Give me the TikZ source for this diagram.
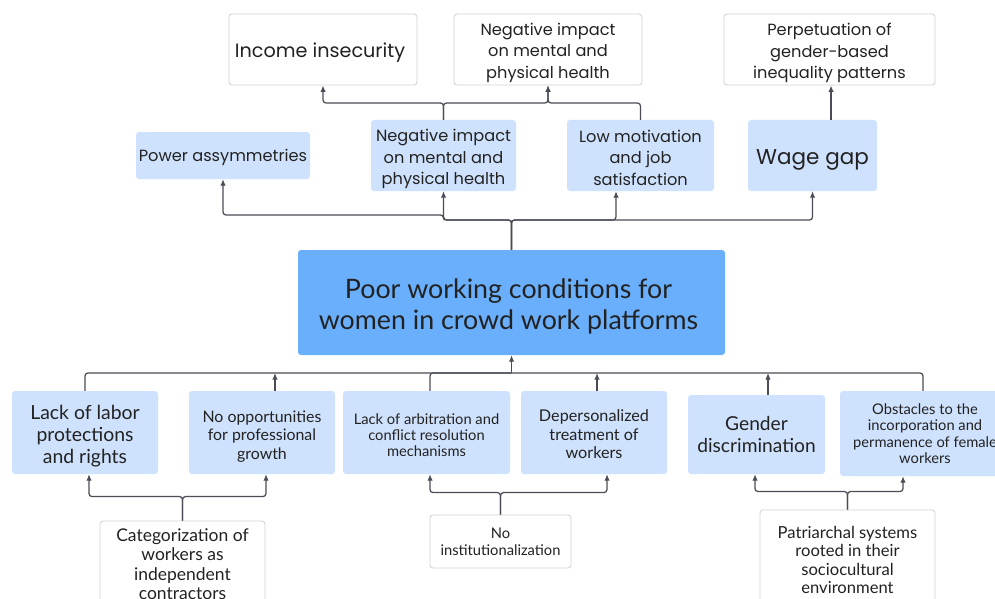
\documentclass[tikz,border=0pt]{standalone}
\usepackage{fontspec}
\usetikzlibrary{arrows.meta,calc}
\newfontfamily\pop{Poppins}
\newfontfamily\lat{Lato}
\newcommand{\fsz}[2]{\fontsize{#1}{#2}\selectfont}
\definecolor{lblue}{HTML}{CFE2FD}
\definecolor{mblue}{HTML}{6AAFFC}
\definecolor{bgray}{HTML}{D4D4D4}
\definecolor{lgray}{HTML}{4A4D55}
\definecolor{tcol}{HTML}{222222}
\tikzset{
  wbox/.style={draw=bgray, line width=0.9pt, fill=white, rounded corners=3pt, inner sep=0pt},
  bbox/.style={fill=lblue, rounded corners=3pt, inner sep=0pt},
  mbox/.style={fill=mblue, rounded corners=3pt, inner sep=0pt},
  txt/.style={align=center, inner sep=0pt, text=tcol},
  ln/.style={draw=lgray, line width=1.25pt, rounded corners=3pt},
  arr/.style={ln, -{Latex[length=6.5pt,width=5.5pt]}},
}
\begin{document}
\begin{tikzpicture}[x=1pt,y=-1pt]
\useasboundingbox[fill=white] (0,0) rectangle (995,599);
% top white boxes
\node[wbox, minimum width=188pt, minimum height=71pt] (inc) at (323,49.5) {};
\node[txt, font=\pop\fsz{19.2}{22}] (inc-t) at ([xshift=-3pt,yshift=-3pt]inc.center) {Income insecurity};
\node[wbox, minimum width=188pt, minimum height=71pt] (neg2) at (548,49.5) {};
\node[txt, font=\pop\fsz{16.2}{21.5}] (neg2-t) at ([yshift=-3pt]neg2.center) {Negative impact\\on mental and\\physical health};
\node[wbox, minimum width=211pt, minimum height=71pt] (perp) at (829.5,49.5) {};
\node[txt, font=\pop\fsz{16.2}{21.5}] (perp-t) at ([yshift=-3.5pt]perp.center) {Perpetuation of\\gender-based\\inequality patterns};
% top blue boxes
\node[bbox, minimum width=174pt, minimum height=47pt] (pow) at (223,155.5) {};
\node[txt, font=\pop\fsz{16.2}{21.5}] (pow-t) at ([yshift=-2pt]pow.center) {Power assymmetries};
\node[bbox, minimum width=145pt, minimum height=71pt] (neg) at (443.5,155.5) {};
\node[txt, font=\pop\fsz{16.2}{21.5}] (neg-t) at ([yshift=-3.5pt]neg.center) {Negative impact\\on mental and\\physical health};
\node[bbox, minimum width=147pt, minimum height=71pt] (low) at (640.5,155.5) {};
\node[txt, font=\pop\fsz{16.2}{21.5}] (low-t) at ([yshift=-2pt]low.center) {Low motivation\\and job\\satisfaction};
\node[bbox, minimum width=129pt, minimum height=71pt] (wage) at (812.5,155.5) {};
\node[txt, font=\pop\fsz{21.5}{26}] (wage-t) at ([yshift=-4pt]wage.center) {Wage gap};
% main
\node[mbox, minimum width=427pt, minimum height=105pt] (main) at (511.5,302.5) {};
\node[txt, font=\lat\fsz{26.8}{31}] (main-t) at ([xshift=-3pt,yshift=-4pt]main.center) {Poor working conditions for\\women in crowd work platforms};
% bottom blue boxes
\node[bbox, minimum width=146pt, minimum height=83pt] (lab) at (85,432.5) {};
\node[txt, font=\lat\fsz{19.4}{22}] (lab-t) at ([yshift=-4pt]lab.center) {Lack of labor\\protections\\and rights};
\node[bbox, minimum width=146pt, minimum height=83pt] (opp) at (262,432.5) {};
\node[txt, font=\lat\fsz{15.9}{18.5}] (opp-t) at ([yshift=-4pt]opp.center) {No opportunities\\for professional\\growth};
\node[bbox, minimum width=167pt, minimum height=83pt] (arb) at (426.5,432.5) {};
\node[txt, font=\lat\fsz{14.7}{16}] (arb-t) at ([yshift=-2.5pt]arb.center) {Lack of arbitration and\\conflict resolution\\mechanisms};
\node[bbox, minimum width=146pt, minimum height=83pt] (dep) at (594,432.5) {};
\node[txt, font=\lat\fsz{16.2}{18.5}] (dep-t) at ([yshift=-2pt]dep.center) {Depersonalized\\treatment of\\workers};
\node[bbox, minimum width=137pt, minimum height=79pt] (gen) at (756.5,434.5) {};
\node[txt, font=\lat\fsz{19.2}{22}] (gen-t) at (gen.center) {Gender\\discrimination};
\node[bbox, minimum width=170pt, minimum height=85pt] (obs) at (925,433.5) {};
\node[txt, font=\lat\fsz{14.7}{16.5}] (obs-t) at (obs.center) {Obstacles to the\\incorporation and\\permanence of female\\workers};
% bottom white boxes
\node[wbox, minimum width=165pt, minimum height=86pt] (cat) at (182.5,564) {};
\node[txt, font=\lat\fsz{17.5}{19.5}] (cat-t) at (cat.center) {Categorization of\\workers as\\independent\\contractors};
\node[wbox, minimum width=141pt, minimum height=53pt] (noi) at (500.5,541.5) {};
\node[txt, font=\lat\fsz{14.7}{17}] (noi-t) at (noi.center) {No\\institutionalization};
\node[wbox, minimum width=175pt, minimum height=99pt] (pat) at (847.5,559.5) {};
\node[txt, font=\lat\fsz{16.6}{18.5}] (pat-t) at ([yshift=-0.5pt]pat.center) {Patriarchal systems\\rooted in their\\sociocultural\\environment};
% top connectors
\coordinate (jt) at (511.5,220);
\draw[arr] (main.north) -- (jt) -| (wage.south);
\draw[arr] (main.north) -- (jt) -| ([xshift=-24.5pt]low.south);
\draw[arr] (main.north) -- (jt) -| (neg.south);
\draw[arr] (main.north) -- (jt) -| (443.5,215) -| (pow.south);
\coordinate (jn) at (443.5,103);
\draw[arr] (neg.north) -- (jn) -| (inc.south);
\draw[arr] (neg.north) -- (jn) -| (neg2.south);
\draw[arr] (low.north) |- (neg2.south |- jn) -- (neg2.south);
\draw[arr] ([xshift=18.5pt]wage.north) -- ([xshift=18.5pt]wage.north |- perp.south);
% bottom connectors
\coordinate (jb) at (511.5,373);
\draw[arr] (jb) -- (main.south);
\draw[ln] (lab.north) |- (jb);
\draw[ln] ([xshift=3.5pt]arb.north) |- (jb);
\draw[ln] ([xshift=-2pt]obs.north) |- (jb);
\draw[arr] ([xshift=13pt]opp.north) -- ([xshift=13pt]opp.north |- jb);
\draw[arr] ([xshift=3pt]dep.north) -- ([xshift=3pt]dep.north |- jb);
\draw[arr] ([xshift=11.5pt]gen.north) -- ([xshift=11.5pt]gen.north |- jb);
% lowest connectors
\draw[arr] (cat.north) -- ++(0,-24) -| ([xshift=4pt]lab.south);
\draw[arr] (cat.north) -- ++(0,-24) -| ([xshift=4pt]opp.south);
\draw[arr] (noi.north) -- ++(0,-22) -| ([xshift=3.5pt]arb.south);
\draw[arr] (noi.north) -- ++(0,-22) -| ([xshift=13pt]dep.south);
\draw[arr] (pat.north) -- ++(0,-18) -| ([xshift=-1.5pt]gen.south);
\draw[arr] (pat.north) -- ++(0,-18) -| ([xshift=-22pt]obs.south);
\end{tikzpicture}
\end{document}
